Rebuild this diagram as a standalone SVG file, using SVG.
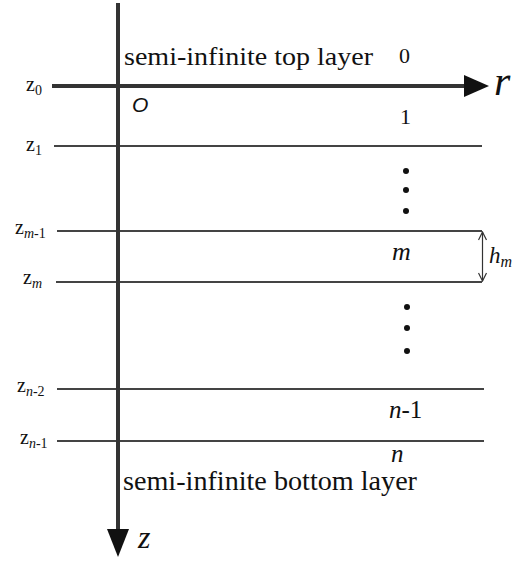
<svg xmlns="http://www.w3.org/2000/svg" width="522" height="563" viewBox="0 0 522 563">
<defs>
<style>
.ax{stroke:#333;stroke-width:4;fill:none}
.ln{stroke:#444;stroke-width:2;fill:none}
.t{font-family:"Liberation Serif","Times New Roman",serif;fill:#111}
.it{font-style:italic}
.zl{font-size:20px}
.sb{font-size:14px}
</style>
<marker id="dh" viewBox="0 0 10 10" refX="9" refY="5" markerWidth="10" markerHeight="10" markerUnits="userSpaceOnUse" orient="auto-start-reverse">
<path d="M1,1 L9,5 L1,9" fill="none" stroke="#333" stroke-width="1.2"/>
</marker>
</defs>
<rect width="522" height="563" fill="#fff"/>
<g id="connectors">
<line class="ln" x1="54" y1="146" x2="482" y2="146"/>
<line class="ln" x1="57" y1="231" x2="482" y2="231"/>
<line class="ln" x1="56" y1="282" x2="482" y2="282"/>
<line class="ln" x1="57" y1="389" x2="484" y2="389"/>
<line class="ln" x1="57" y1="441" x2="484" y2="441"/>
<line class="ax" x1="52" y1="86" x2="466" y2="86" stroke-width="3.5"/>
<polygon points="464,75 489,86 464,97" fill="#111"/>
<line class="ax" x1="118" y1="3" x2="118" y2="531"/>
<polygon points="107,529 129,529 118,557" fill="#111"/>
<line x1="482.5" y1="232" x2="482.5" y2="281" stroke="#333" stroke-width="1.2" marker-start="url(#dh)" marker-end="url(#dh)"/>
</g>
<g id="axis-labels">
<text class="t it" x="494" y="95" font-size="42" font-family="Liberation Serif, serif">r</text>
<text class="t it" x="138" y="548" font-size="32" font-family="Liberation Serif, serif">z</text>
<text x="132" y="112" font-family="Liberation Sans, Arial, sans-serif" font-style="italic" font-size="21" fill="#111">O</text>
</g>
<g id="top-layer">
<text class="t" x="124" y="65" font-size="26" textLength="249" lengthAdjust="spacingAndGlyphs">semi-infinite top layer</text>
<text class="t" x="399" y="63" font-size="22" font-family="Liberation Serif, serif">0</text>
</g>
<g id="layer-1"><text class="t" x="400" y="124" font-size="22" font-family="Liberation Serif, serif">1</text></g>
<g id="dots1">
<circle cx="406" cy="171" r="3" fill="#111"/>
<circle cx="406" cy="190" r="3" fill="#111"/>
<circle cx="406" cy="211" r="3" fill="#111"/>
</g>
<g id="layer-m">
<text class="t it" x="392" y="260" font-size="26" font-family="Liberation Serif, serif">m</text>
<text class="t it" x="489" y="263" font-size="23" font-family="Liberation Serif, serif">h<tspan font-size="16" dy="4">m</tspan></text>
</g>
<g id="dots2">
<circle cx="407" cy="307" r="3" fill="#111"/>
<circle cx="407" cy="328" r="3" fill="#111"/>
<circle cx="407" cy="351" r="3" fill="#111"/>
</g>
<g id="layer-n-1"><text class="t" x="389" y="418" font-size="25" font-family="Liberation Serif, serif"><tspan font-style="italic">n</tspan>-1</text></g>
<g id="bottom-layer">
<text class="t it" x="391" y="462" font-size="25" font-family="Liberation Serif, serif">n</text>
<text class="t" x="123" y="490" font-size="28" textLength="294" lengthAdjust="spacingAndGlyphs">semi-infinite bottom layer</text>
</g>
<g id="z-labels" font-family="Liberation Serif, serif">
<text class="t zl" x="26" y="91">z<tspan class="sb" dy="4">0</tspan></text>
<text class="t zl" x="26" y="151">z<tspan class="sb" dy="4">1</tspan></text>
<text class="t zl" x="15" y="234">z<tspan class="sb" dy="4"><tspan font-style="italic">m</tspan>-1</tspan></text>
<text class="t zl" x="23" y="284">z<tspan class="sb" dy="4" font-style="italic">m</tspan></text>
<text class="t zl" x="17" y="392">z<tspan class="sb" dy="4"><tspan font-style="italic">n</tspan>-2</tspan></text>
<text class="t zl" x="20" y="444">z<tspan class="sb" dy="4"><tspan font-style="italic">n</tspan>-1</tspan></text>
</g>
</svg>
